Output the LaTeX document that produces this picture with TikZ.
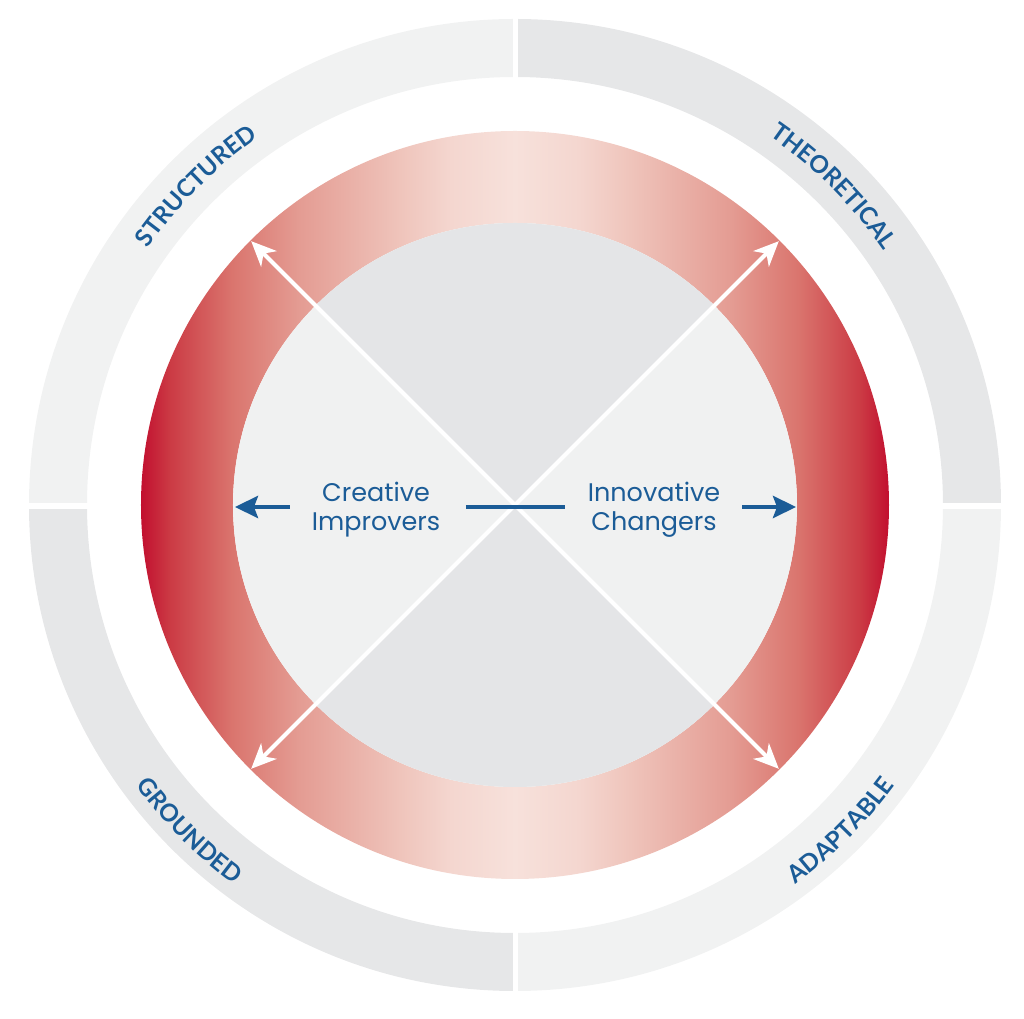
\documentclass[tikz,border=0pt]{standalone}
\usepackage{fontspec}
\setmainfont{Poppins}
\newfontfamily\ringfamily{Lato}
\usetikzlibrary{arrows.meta, decorations.text}

\definecolor{quadlight}{HTML}{F1F2F2}
\definecolor{quaddark}{HTML}{E6E7E8}
\definecolor{innerlight}{HTML}{F0F1F1}
\definecolor{innerdark}{HTML}{E4E5E7}
\definecolor{textblue}{HTML}{1B5C97}
\definecolor{ringred}{HTML}{C20F2F}
\definecolor{ringA}{HTML}{CB3A44}
\definecolor{ringB}{HTML}{DA756E}
\definecolor{ringC}{HTML}{E49C93}
\definecolor{ringD}{HTML}{EFC4BB}
\definecolor{ringE}{HTML}{F4D6CF}
\definecolor{ringF}{HTML}{F7E1DB}

\pgfdeclarehorizontalshading{redband}{100bp}{color(0bp)=(ringred); color(25bp)=(ringred);
  color(26.9bp)=(ringA); color(31.1bp)=(ringB); color(35.6bp)=(ringC); color(42.3bp)=(ringD);
  color(45.7bp)=(ringE); color(50bp)=(ringF); color(54.3bp)=(ringE); color(57.7bp)=(ringD);
  color(64.4bp)=(ringC); color(68.9bp)=(ringB); color(73.1bp)=(ringA); color(75bp)=(ringred);
  color(100bp)=(ringred)}

\newcommand{\ringfont}{\ringfamily\fontsize{13.8}{16}\selectfont\bfseries}

\begin{document}
\begin{tikzpicture}[scale=0.02,
    spoke/.style={white, line width=0.08cm, -{Stealth[length=0.5cm, width=0.44cm, inset=0.15cm]}},
    pointer/.style={draw=textblue, line width=0.09cm, -{Stealth[length=0.46cm, width=0.44cm, inset=0.08cm]}},
    ringlabel/.style={decorate, decoration={text along path, text align=center, text color=textblue}},
    midtext/.style={text=textblue, align=center, font=\fontsize{14.5}{16.5}\selectfont}
]
\useasboundingbox (-515,-514) rectangle (509,505);

% Outer grey ring
\foreach \a/\col in {0/quaddark, 90/quadlight, 180/quaddark, 270/quadlight} {
    \fill[\col] (\a:486) arc[start angle=\a, end angle=\a+90, radius=486]
        -- ({\a+90}:428) arc[start angle=\a+90, end angle=\a, radius=428] -- cycle;
}
\draw[white, line width=0.12cm] (-490,-1.5) -- (490,-1.5);
\draw[white, line width=0.12cm] (0.5,-490) -- (0.5,490);

% Red ring
\shade[shading=redband, even odd rule] (0,0) circle[radius=374] (0,0) circle[radius=282];

% Inner disc
\fill[innerlight] (0,0) circle[radius=282];
\foreach \a in {45,225} {
    \fill[innerdark] (0,0) -- (\a:282) arc[start angle=\a, end angle=\a+90, radius=282] -- cycle;
}

% Spokes
\coordinate (hub) at (0,0);
\foreach \a in {45,135,225,315} {
    \coordinate (tip\a) at (\a:373);
    \draw[spoke] (hub) -- (tip\a);
}

% Blue bar and pointers
\coordinate (barW) at (-49,-2);
\coordinate (barE) at (50,-2);
\draw[textblue, line width=0.09cm] (barW) -- (barE);
\coordinate (leftTail) at (-225,-2);
\coordinate (leftTip) at (-280,-2);
\coordinate (rightTail) at (227,-2);
\coordinate (rightTip) at (281,-2);
\draw[pointer] (leftTail) -- (leftTip);
\draw[pointer] (rightTail) -- (rightTip);

\node[midtext] (creative) at (-139,-5) {Creative\\Improvers};
\node[midtext] (innovative) at (139,-5) {Innovative\\Changers};

% Ring labels
\path[ringlabel, decoration={text={|\ringfont|STRUCTURED}}] (160:448) arc[start angle=160, end angle=110, radius=448];
\path[ringlabel, decoration={text={|\ringfont|THEORETICAL}}] (70:448) arc[start angle=70, end angle=20, radius=448];
\path[ringlabel, decoration={text={|\ringfont|GROUNDED}}] (200:472) arc[start angle=200, end angle=250, radius=472];
\path[ringlabel, decoration={text={|\ringfont|ADAPTABLE}}] (290:472) arc[start angle=290, end angle=340, radius=472];

\end{tikzpicture}
\end{document}
